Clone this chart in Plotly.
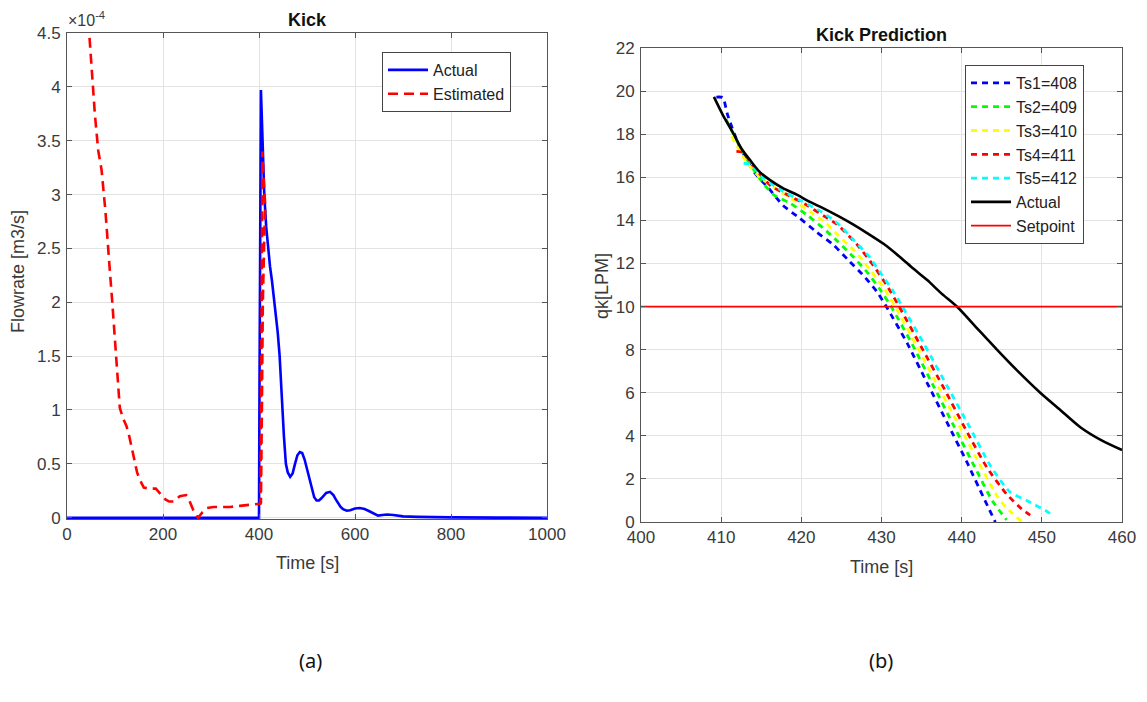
import plotly.graph_objects as go

W, H = 1147, 702

# ---------------- (a) Kick : flowrate in units of 1e-4 m3/s ----------------
actual_t = [0, 400, 401, 402.5, 404, 406, 408, 411, 415, 419, 423, 427, 431, 435, 439,
            443, 446, 448, 450, 452, 456, 460, 465, 470, 475, 480, 485, 490, 495, 500,
            505, 510, 515, 520, 525, 530, 535, 540, 548, 555, 560, 565, 570, 575, 583,
            590, 600, 610, 620, 630, 640, 648, 657, 667, 680, 700, 730, 760, 800, 900, 1000]
actual_q = [0, 0, 1.2, 3.2, 3.97, 3.7, 3.39, 3.0, 2.7, 2.49, 2.33, 2.2, 2.05, 1.9, 1.72,
            1.5, 1.22, 1.0, 0.86, 0.75, 0.5, 0.42, 0.38, 0.41, 0.5, 0.58, 0.61, 0.60, 0.54, 0.45,
            0.35, 0.26, 0.19, 0.16, 0.16, 0.18, 0.21, 0.23, 0.24, 0.21, 0.17, 0.13, 0.10, 0.08, 0.065,
            0.07, 0.085, 0.09, 0.08, 0.06, 0.035, 0.02, 0.025, 0.03, 0.025, 0.012, 0.008, 0.005, 0.003, 0.001, 0.0]

est_t = [40, 46, 52, 58, 65, 72, 80, 85, 90, 94, 99, 104, 110, 117, 124, 130, 135, 141,
         146, 152, 160, 172, 185, 195, 205, 213, 222, 235, 248, 252, 258, 265, 273, 282,
         292, 305, 320, 340, 360, 380, 396, 403, 405, 407, 409, 411, 413, 411, 408, 406, 404]
est_q = [4.9, 4.5, 4.1, 3.75, 3.41, 3.23, 2.85, 2.5, 2.25, 2.02, 1.7, 1.4, 1.02, 0.92, 0.85, 0.75, 0.65, 0.52,
         0.42, 0.35, 0.28, 0.27, 0.27, 0.22, 0.17, 0.15, 0.15, 0.2, 0.21, 0.19, 0.12, 0.05, 0.0, 0.05,
         0.09, 0.1, 0.1, 0.1, 0.11, 0.12, 0.13, 0.13, 1.5, 3.4, 3.2, 3.05, 2.9, 2.6, 2.0, 1.0, 0.13]

# ---------------- (b) Kick Prediction : qk in LPM ----------------
ts1_t = [409.4, 410.2, 410.8, 412.2, 414.2, 415.9, 417.7, 419.8, 421.9, 424.0, 426.0, 427.6,
         429.4, 430.6, 433.2, 435.7, 438.2, 440.7, 442.7, 444.2]
ts1_q = [19.72, 19.7, 18.9, 17.5, 16.2, 15.5, 14.7, 14.1, 13.46, 12.86, 12.1, 11.5,
         10.7, 10.0, 8.3, 6.45, 4.6, 2.74, 1.16, 0.0]

ts2_t = [410.6, 412.5, 414.5, 416.5, 418.6, 420.7, 422.7, 424.6, 426.5, 428.3, 429.8, 431.2,
         433.9, 436.5, 439.1, 441.7, 443.8, 445.6]
ts2_q = [18.7, 17.3, 16.1, 15.2, 14.8, 14.25, 13.65, 13.0, 12.3, 11.55, 10.8, 10.0,
         8.2, 6.3, 4.4, 2.5, 1.0, 0.1]

ts3_t = [411.3, 413.0, 414.8, 416.7, 419.0, 421.1, 423.0, 424.6, 426.6, 428.8, 430.4, 431.7,
         434.5, 437.2, 439.8, 442.5, 444.6, 446.3, 447.6]
ts3_q = [17.9, 16.8, 16.0, 15.5, 14.95, 14.4, 13.9, 13.3, 12.6, 11.6, 10.8, 10.0,
         8.1, 6.2, 4.4, 2.5, 1.1, 0.4, 0.0]

ts4_t = [411.9, 412.7, 414.5, 416.2, 418.3, 420.7, 423.0, 424.5, 426.9, 429.0, 430.8, 432.2,
         435.0, 437.8, 440.5, 443.2, 445.6, 447.5, 449.0]
ts4_q = [17.2, 17.15, 16.3, 15.6, 15.18, 14.7, 14.16, 13.8, 12.9, 11.9, 10.9, 10.0,
         8.1, 6.2, 4.3, 2.5, 1.3, 0.6, 0.2]

ts5_t = [412.8, 413.6, 415.5, 417.5, 420.0, 422.5, 424.4, 426.5, 428.5, 429.8, 431.3, 432.6,
         435.4, 438.2, 441.0, 443.6, 446.0, 448.1, 450.6, 451.4]
ts5_q = [16.65, 16.6, 15.9, 15.4, 14.9, 14.4, 13.9, 13.1, 12.3, 11.6, 10.8, 10.0,
         8.2, 6.3, 4.4, 2.6, 1.4, 1.0, 0.5, 0.3]

act_t = [409.1, 410.2, 411.5, 412.5, 413.6, 414.8, 416.1, 417.7, 419.5, 421.0, 422.7, 424.8,
         426.5, 428.2, 430.3, 432.3, 434.0, 435.7, 437.5, 439.4, 441.9, 444.4, 447.0, 449.8,
         452.3, 454.8, 457.4, 460.0]
act_q = [19.73, 18.9, 18.05, 17.35, 16.8, 16.25, 15.87, 15.5, 15.18, 14.87, 14.57, 14.16,
         13.8, 13.41, 12.9, 12.3, 11.75, 11.23, 10.6, 10.0, 9.0, 8.0, 7.0, 6.0,
         5.2, 4.4, 3.8, 3.34]

setpoint_t = [400, 460]
setpoint_q = [10, 10]

pred_names = ["Ts1=408", "Ts2=409", "Ts3=410", "Ts4=411", "Ts5=412"]
pred_colors = ["#0000ff", "#00ff00", "#ffff00", "#ff0000", "#00ffff"]
pred_t = [ts1_t, ts2_t, ts3_t, ts4_t, ts5_t]
pred_q = [ts1_q, ts2_q, ts3_q, ts4_q, ts5_q]

xa_ticks = [0, 200, 400, 600, 800, 1000]
ya_ticks = [0, 0.5, 1, 1.5, 2, 2.5, 3, 3.5, 4, 4.5]
ya_labels = ["0", "0.5", "1", "1.5", "2", "2.5", "3", "3.5", "4", "4.5"]
xb_ticks = [400, 410, 420, 430, 440, 450, 460]
yb_ticks = [0, 2, 4, 6, 8, 10, 12, 14, 16, 18, 20, 22]


def px(x):
    return x / W


def py(y):
    return 1 - y / H


fig = go.Figure()

fig.add_trace(go.Scatter(x=actual_t, y=actual_q, mode="lines", name="Actual",
                         line=dict(color="#0000ff", width=2.6),
                         xaxis="x", yaxis="y", legend="legend"))
fig.add_trace(go.Scatter(x=est_t, y=est_q, mode="lines", name="Estimated",
                         line=dict(color="#ff0000", width=2.6, dash="10px,6px"),
                         xaxis="x", yaxis="y", legend="legend"))

for t, q, n, c in zip(pred_t, pred_q, pred_names, pred_colors):
    fig.add_trace(go.Scatter(x=t, y=q, mode="lines", name=n,
                             line=dict(color=c, width=2.8, dash="6px,5px",
                                       shape="spline", smoothing=0.6),
                             xaxis="x2", yaxis="y2", legend="legend2"))
fig.add_trace(go.Scatter(x=act_t, y=act_q, mode="lines", name="Actual",
                         line=dict(color="#000000", width=2.6, shape="spline", smoothing=0.8),
                         xaxis="x2", yaxis="y2", legend="legend2"))
fig.add_trace(go.Scatter(x=setpoint_t, y=setpoint_q, mode="lines", name="Setpoint",
                         line=dict(color="#ff0000", width=1.8),
                         xaxis="x2", yaxis="y2", legend="legend2"))

FONT = "Liberation Sans, Arial, sans-serif"
tickfont = dict(family=FONT, size=17, color="#3a3a3a")
axis_common = dict(showgrid=True, gridcolor="#e3e3e3", gridwidth=1, showline=True,
                   linecolor="#555555", linewidth=1, mirror="ticks", ticks="inside",
                   ticklen=5, tickcolor="#555555", tickfont=tickfont, zeroline=False,
                   fixedrange=True, automargin=False)

fig.update_layout(
    template="none",
    width=W, height=H,
    margin=dict(l=0, r=0, t=0, b=0, pad=0, autoexpand=False),
    paper_bgcolor="white", plot_bgcolor="white",
    xaxis=dict(domain=[px(67), px(547)], range=[0, 1000], tickvals=xa_ticks,
               anchor="y", **axis_common),
    yaxis=dict(domain=[py(519), py(33)], range=[-0.012, 4.5], tickvals=ya_ticks,
               ticktext=ya_labels, anchor="x", ticklabelstandoff=2, **axis_common),
    xaxis2=dict(domain=[px(641), px(1122)], range=[400, 460], tickvals=xb_ticks,
                anchor="y2", **axis_common),
    yaxis2=dict(domain=[py(522), py(48)], range=[0, 22], tickvals=yb_ticks,
                anchor="x2", ticklabelstandoff=2, **axis_common),
    legend=dict(x=px(382), y=py(52), xanchor="left", yanchor="top",
                bgcolor="white", bordercolor="#444444", borderwidth=1,
                font=dict(family=FONT, size=16, color="#222222"),
                tracegroupgap=0, itemwidth=40),
    legend2=dict(x=px(965), y=py(65), xanchor="left", yanchor="top",
                 bgcolor="white", bordercolor="#444444", borderwidth=1,
                 font=dict(family=FONT, size=16, color="#222222"),
                 tracegroupgap=0, itemwidth=40),
    showlegend=True,
)

lab = dict(family=FONT, size=18, color="#3a3a3a")
ttl = dict(family=FONT, size=18, color="#111111")
cap = dict(family="Noto Sans, Open Sans, sans-serif", size=20, color="#111111")
annotations = [
    dict(text="<b>Kick</b>", x=px(307), y=py(20), font=ttl),
    dict(text="<b>Kick Prediction</b>", x=px(881), y=py(35), font=ttl),
    dict(text="\u00d710<sup>-4</sup>", x=px(66), y=py(19), xanchor="left",
         font=dict(family=FONT, size=16, color="#3a3a3a")),
    dict(text="Time [s]", x=px(307), y=py(563), font=lab),
    dict(text="Time [s]", x=px(881), y=py(567), font=lab),
    dict(text="Flowrate [m3/s]", x=px(18), y=py(272), textangle=-90, font=lab),
    dict(text="qk[LPM]", x=px(602), y=py(286), textangle=-90, font=lab),
    dict(text="(a)", x=px(310), y=py(660), font=cap),
    dict(text="(b)", x=px(881), y=py(660), font=cap),
]
for a in annotations:
    a.setdefault("xanchor", "center")
    a.update(xref="paper", yref="paper", yanchor="middle", showarrow=False)
fig.update_layout(annotations=annotations)

fig.write_html("out.html")
